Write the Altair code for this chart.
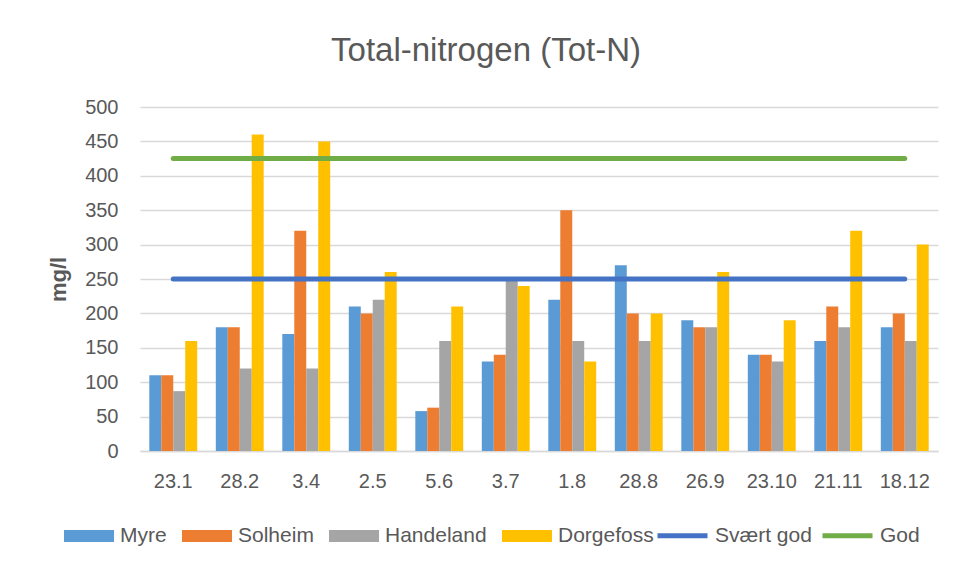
import altair as alt
import pandas as pd

# ---- data ----
dates = ["23.1", "28.2", "3.4", "2.5", "5.6", "3.7", "1.8", "28.8", "26.9", "23.10", "21.11", "18.12"]
stations = ["Myre", "Solheim", "Handeland", "Dorgefoss"]
myre = [110, 180, 170, 210, 58, 130, 220, 270, 190, 140, 160, 180]
solheim = [110, 180, 320, 200, 63, 140, 350, 200, 180, 140, 210, 200]
handeland = [87, 120, 120, 220, 160, 247, 160, 160, 180, 130, 180, 160]
dorgefoss = [160, 460, 450, 260, 210, 240, 130, 200, 260, 190, 320, 300]

classes = ["Svært god", "God"]
svaert_god = [250, 250, 250, 250, 250, 250, 250, 250, 250, 250, 250, 250]
god = [425, 425, 425, 425, 425, 425, 425, 425, 425, 425, 425, 425]

bar_colors = ["#5B9BD5", "#ED7D31", "#A5A5A5", "#FFC000"]
line_colors = ["#4472C4", "#70AD47"]

rows = []
for s, vals in zip(stations, [myre, solheim, handeland, dorgefoss]):
    for d, v in zip(dates, vals):
        rows.append({"dato": d, "stasjon": s, "verdi": v})
bars_df = pd.DataFrame(rows)

lrows = []
for c, vals in zip(classes, [svaert_god, god]):
    for d, v in zip(dates, vals):
        lrows.append({"dato": d, "klasse": c, "verdi": v})
lines_df = pd.DataFrame(lrows)

FONT = "Liberation Sans"
TEXT = "#595959"
GRID = "#D9D9D9"

x_enc = alt.X(
    "dato:N",
    sort=dates,
    scale=alt.Scale(paddingInner=0.28, paddingOuter=0.14),
    axis=alt.Axis(
        title=None, labelAngle=0, ticks=False, labelPadding=20,
        labelFontSize=20, labelFont=FONT, labelColor=TEXT,
        domainColor=GRID, domainWidth=1.5, grid=False,
    ),
)
y_enc = alt.Y(
    "verdi:Q",
    scale=alt.Scale(domain=[0, 500], nice=False),
    axis=alt.Axis(
        values=[0, 50, 100, 150, 200, 250, 300, 350, 400, 450, 500],
        title="mg/l", titleFont=FONT, titleFontSize=22, titleFontWeight="bold",
        titleColor=TEXT, titleX=-82, titleY=172, titleAngle=270,
        titleAlign="center", titleBaseline="middle",
        labelFontSize=20, labelFont=FONT, labelColor=TEXT, labelPadding=22,
        ticks=False, domain=False, gridColor=GRID, gridWidth=1.5,
    ),
)

bars = alt.Chart(bars_df).mark_bar().encode(
    x=x_enc,
    xOffset=alt.XOffset("stasjon:N", sort=stations,
                        scale=alt.Scale(paddingInner=0, paddingOuter=0)),
    y=y_enc,
    color=alt.Color(
        "stasjon:N", sort=stations,
        scale=alt.Scale(domain=stations, range=bar_colors),
        legend=alt.Legend(
            title=None, orient="none", legendX=-76, legendY=404,
            direction="horizontal", symbolType="M-1,-0.24H1V0.24H-1Z",
            symbolSize=2500, symbolStrokeWidth=0, symbolOpacity=1,
            labelFontSize=21, labelFont=FONT, labelColor=TEXT,
            labelOffset=6, columnPadding=15,
        ),
    ),
)

lines = alt.Chart(lines_df).mark_line(strokeWidth=5, strokeCap="round").encode(
    x=x_enc,
    y=y_enc,
    color=alt.Color(
        "klasse:N", sort=classes,
        scale=alt.Scale(domain=classes, range=line_colors),
        legend=alt.Legend(
            title=None, orient="none", legendX=515, legendY=401,
            direction="horizontal", symbolType="stroke",
            symbolSize=2500, symbolStrokeWidth=5,
            labelFontSize=21, labelFont=FONT, labelColor=TEXT,
            labelOffset=5, columnPadding=0,
        ),
    ),
)

chart = (
    alt.layer(bars, lines)
    .resolve_scale(color="independent")
    .properties(
        width=798,
        height=344,
        title=alt.TitleParams(
            "Total-nitrogen (Tot-N)", font=FONT, fontSize=33,
            fontWeight="normal", color=TEXT, anchor="middle",
            dx=-53, offset=29,
        ),
        autosize=alt.AutoSizeParams(type="none"),
        padding={"left": 132, "top": 99, "right": 9, "bottom": 100},
        background="white",
    )
    .configure_view(strokeWidth=0)
)

chart.save("out.html", embed_options={"renderer": "svg", "actions": False})
